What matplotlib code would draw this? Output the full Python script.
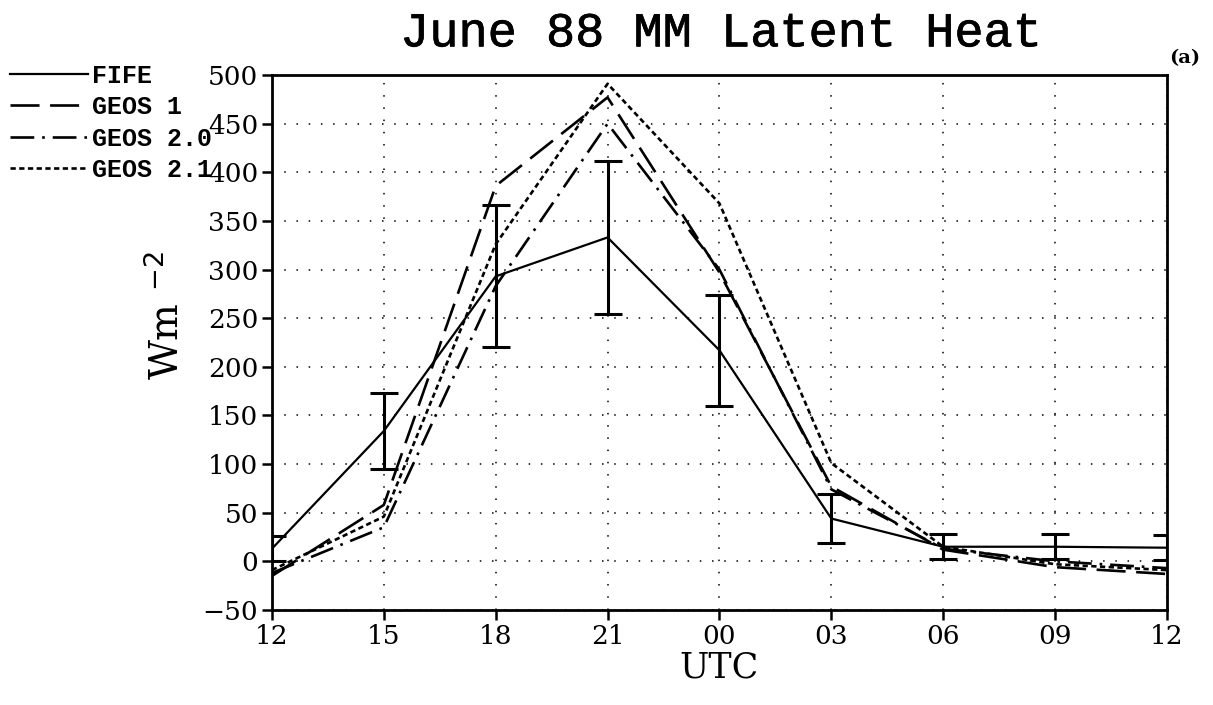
import matplotlib
matplotlib.use("Agg")
import matplotlib.pyplot as plt
import matplotlib.patheffects as pe
import numpy as np

# hours after 12 UTC
hours = [0, 3, 6, 9, 12, 15, 18, 21, 24]
tick_labels = ["12", "15", "18", "21", "00", "03", "06", "09", "12"]

fife = [13, 134, 293, 333, 217, 44, 15, 15, 14]
fife_err = [13, 39, 73, 79, 57, 25, 13, 13, 13]
geos1 = [-15, 58, 386, 477, 297, 77, 12, -6, -13]
geos20 = [-12, 35, 283, 450, 300, 74, 13, 0, -7]
geos21 = [-9, 46, 326, 491, 368, 101, 15, -3, -9]

plt.rcParams['font.family'] = ['DejaVu Serif']

fig = plt.figure(figsize=(12.13, 7.05), dpi=100)
ax = fig.add_axes([0.2242, 0.1348, 0.7378, 0.7588])

eb = ax.errorbar(hours, fife, yerr=fife_err, color='black', lw=1.6, capsize=10,
                 capthick=2.2, elinewidth=2.2, zorder=5)
l1, = ax.plot(hours, geos1, color='black', lw=1.9, dashes=(11, 4))
l2, = ax.plot(hours, geos20, color='black', lw=1.9, dashes=(9, 3, 1, 3))
l3, = ax.plot(hours, geos21, color='black', lw=1.9, dashes=(2, 1.3))

ax.set_xlim(0, 24)
ax.set_ylim(-50, 500)
ax.set_xticks(hours)
ax.set_xticklabels(tick_labels)
ax.set_yticks(np.arange(-50, 501, 50))
ax.tick_params(labelsize=19, length=7, width=1.8, direction='out', pad=3)
ax.grid(True, color='black', lw=1.1, dashes=(1, 7))
for s in ax.spines.values():
    s.set_linewidth(2)

ax.set_xlabel("UTC", fontsize=25, labelpad=1)
ax.set_ylabel(r"Wm $^{-2}$", fontsize=28)
ax.yaxis.set_label_coords(-0.095, 0.55)

fig.text(0.594, 0.952, "June 88 MM Latent Heat", fontsize=35,
         family='Liberation Mono', ha='center', va='center',
         path_effects=[pe.withStroke(linewidth=0.5, foreground='black')])
fig.text(0.977, 0.918, "(a)", fontsize=14, fontweight='bold', ha='center', va='center')

fig.legend([eb.lines[0], l1, l2, l3], ['FIFE', 'GEOS 1', 'GEOS 2.0', 'GEOS 2.1'],
           loc='upper left', bbox_to_anchor=(0.0, 0.924),
           frameon=False, handlelength=3.1, handletextpad=0.2,
           labelspacing=0.3, borderaxespad=0.0,
           prop={'family': 'Liberation Mono', 'weight': 'bold', 'size': 18})

fig.savefig("out.png", dpi=100)
